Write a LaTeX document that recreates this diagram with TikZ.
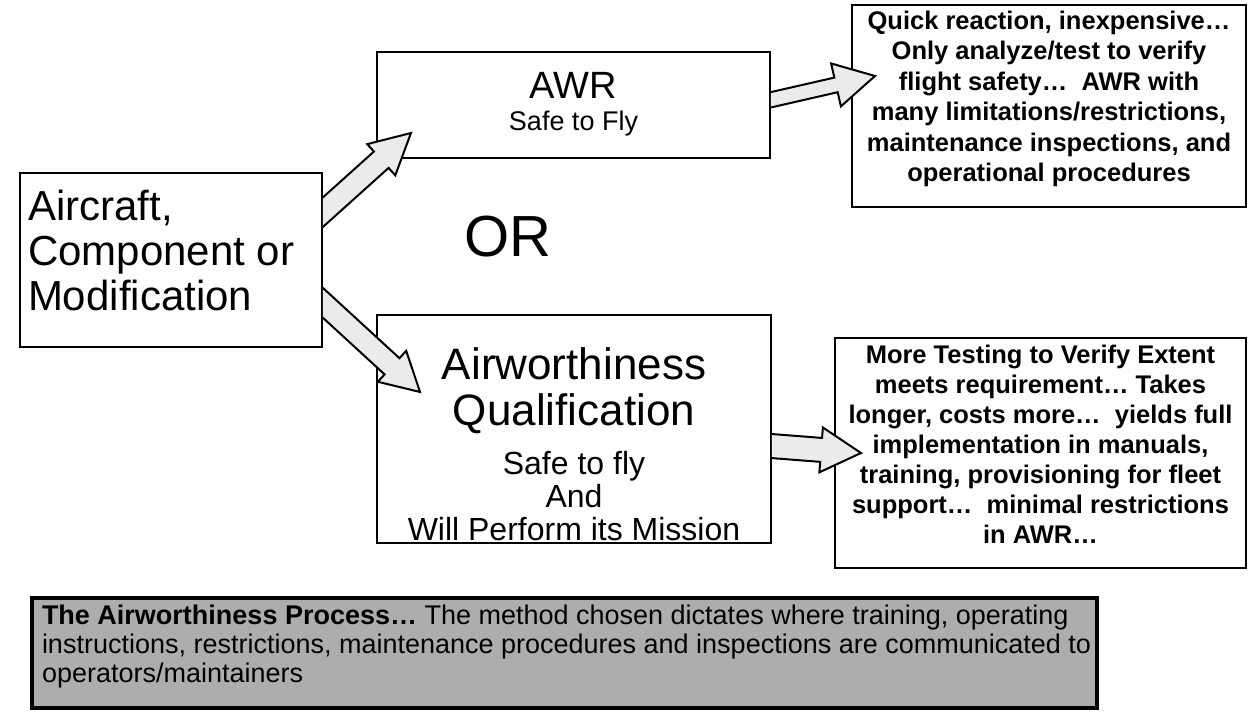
\documentclass[tikz,border=0pt]{standalone}
\usepackage{fontspec}
\setmainfont{Liberation Sans}
\usetikzlibrary{calc}
\tikzset{
  box/.style={draw=black, line width=1.8pt, fill=white, inner sep=0pt, outer sep=0pt},
  fatarr/.style={draw=black, line width=2pt, fill=black!8, line join=miter},
  txt/.style={inner sep=0pt, outer sep=0pt, align=center},
}
\newcommand\fatarrow[7]{%
  \coordinate (#1base) at ($(#3)!#6pt!(#2)$);
  \coordinate (#1back) at ($(#2)!-16pt!(#3)$);
  \begin{scope}
    \clip ($(#7.east)+(0.9,-300)$) rectangle ($(#7.east)+(600,300)$);
    \draw[fatarr] ($(#1back)!#4pt!90:(#3)$) -- ($(#1base)!#4pt!90:(#3)$)
      -- ($(#1base)!#5pt!90:(#3)$) -- (#3) -- ($(#1base)!#5pt!-90:(#3)$)
      -- ($(#1base)!#4pt!-90:(#3)$) -- ($(#1back)!#4pt!-90:(#3)$) -- cycle;
  \end{scope}}
\begin{document}
\begin{tikzpicture}[x=1pt,y=1pt]
\useasboundingbox (0,0) rectangle (1258,724);
\fill[white] (0,0) rectangle (1258,724);

% boxes
\node[box, minimum width=302, minimum height=174] (left) at (171,464) {};
\node[box, minimum width=393, minimum height=106] (awr) at (573.5,619) {};
\node[box, minimum width=394, minimum height=228] (aq) at (574,295) {};
\node[box, minimum width=394, minimum height=202] (q) at (1049,618) {};
\node[box, minimum width=411, minimum height=230] (m) at (1040.5,271) {};
\node[draw=black, line width=3.5pt, fill=black!32, inner sep=0pt, outer sep=0pt,
      minimum width=1065, minimum height=110] (proc) at (564.5,71) {};

% texts
\node[txt, anchor=west, align=left, font=\fontsize{42}{45}\selectfont] (lefttext)
  at ($(left.west)+(8,10)$) {Aircraft,\\Component or\\Modification};
\node[txt, font=\fontsize{38}{40}\selectfont] (awrtitle) at ($(awr.center)+(0,20)$) {AWR};
\node[txt, font=\fontsize{27}{30}\selectfont] (awrsub) at ($(awr.center)+(0,-19)$) {Safe to Fly};
\node[txt, font=\fontsize{44}{46}\selectfont] (aqtitle) at ($(aq.center)+(0,38)$) {Airworthiness\\Qualification};
\node[txt, font=\fontsize{32}{33}\selectfont] (aqsub) at ($(aq.center)+(0,-67)$) {Safe to fly\\And\\Will Perform its Mission};
\node[txt, font=\fontsize{58}{60}\selectfont] (or) at (508,487) {OR};
\node[txt, font=\bfseries\fontsize{25.5}{30.4}\selectfont] (qtext) at ($(q.center)+(0,7)$)
  {Quick reaction, inexpensive…\\Only analyze/test to verify\\flight safety…\ \ AWR with\\many limitations/restrictions,\\maintenance inspections, and\\operational procedures};
\node[txt, font=\bfseries\fontsize{25.5}{30}\selectfont] (mtext) at ($(m.center)+(0,9)$)
  {More Testing to Verify Extent\\meets requirement… Takes\\longer, costs more…\ \ yields full\\implementation in manuals,\\training, provisioning for fleet\\support…\ \ minimal restrictions\\in AWR…};
\node[txt, anchor=west, align=left, font=\fontsize{27}{29}\selectfont] (proctext) at ($(proc.west)+(10,6)$)
  {\textbf{The Airworthiness Process…} The method chosen dictates where training, operating\\instructions, restrictions, maintenance procedures and inspections are communicated to\\operators/maintainers};

% connector end points
\coordinate (a1s) at ($(left.east)+(0,47)$);
\coordinate (a1e) at ($(awr.west)+(34,-28)$);
\coordinate (a2s) at ($(left.east)+(0,-42)$);
\coordinate (a2e) at ($(aq.west)+(43,37)$);
\coordinate (a3s) at ($(awr.east)+(0,5)$);
\coordinate (a3e) at ($(q.west)+(23,30)$);
\coordinate (a4s) at ($(aq.east)+(0,-17)$);
\coordinate (a4e) at ($(m.west)+(26,0)$);

% block arrows
\fatarrow{ar1}{a1s}{a1e}{11}{21}{40}{left}
\fatarrow{ar2}{a2s}{a2e}{11}{21}{38}{left}
\fatarrow{ar3}{a3s}{a3e}{7.5}{22}{40}{awr}
\fatarrow{ar4}{a4s}{a4e}{12}{22.5}{40}{aq}
\end{tikzpicture}
\end{document}
